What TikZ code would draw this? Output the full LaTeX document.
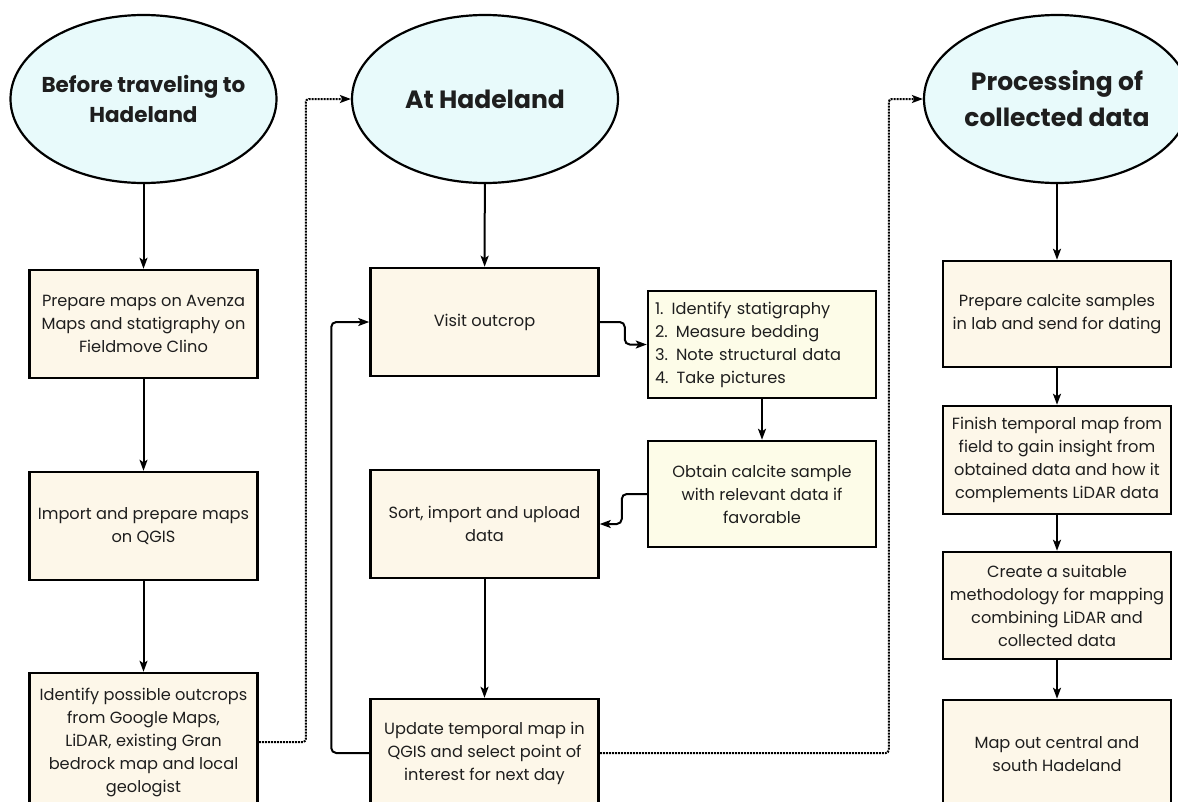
\documentclass[tikz,border=0pt]{standalone}
\usepackage{fontspec}
\setmainfont{Poppins}
\usetikzlibrary{shapes.geometric,arrows.meta,calc}
\definecolor{phasefill}{RGB}{232,250,251}
\definecolor{stepfill}{RGB}{253,247,233}
\definecolor{notefill}{RGB}{253,252,232}
\definecolor{ink}{RGB}{30,30,30}

\begin{document}
\begin{tikzpicture}[x=1pt,y=-1pt,
    phase/.style={ellipse,draw,line width=2.2pt,fill=phasefill,minimum width=266pt,minimum height=168pt,inner xsep=-40pt,inner ysep=0pt,align=center,text=ink,font=\fontsize{21.5}{30}\selectfont\bfseries},
    bigphase/.style={phase,font=\fontsize{25}{36}\selectfont\bfseries},
    stepbox/.style={rectangle,draw,line width=2.5pt,fill=stepfill,minimum width=228pt,minimum height=108pt,inner sep=0pt,align=center,text=ink,font=\fontsize{16.2}{23}\selectfont},
    notebox/.style={stepbox,fill=notefill},
    arr/.style={line width=2pt,-{Stealth[length=11pt,width=8pt,inset=2.5pt]}},
    link/.style={line width=2pt,densely dotted,rounded corners=3pt,-{Stealth[length=11pt,width=8pt,inset=2.5pt]}}]

    \clip (0,0) rectangle (1178,801);
    \fill[white] (0,0) rectangle (1178,801);

    % the three phases
    \node[phase] (before) at (143.5,99) {Before traveling to\\Hadeland};
    \node[bigphase] (athad) at (485,99) {At Hadeland};
    \node[bigphase] (proc) at (1057,99) {Processing of\\collected data};

    % before traveling
    \node[stepbox] (prep) at (143.5,324) {Prepare maps on Avenza\\Maps and statigraphy on\\Fieldmove Clino};
    \node[stepbox] (imp) at (143.5,526) {Import and prepare maps\\on QGIS};
    \node[stepbox,minimum height=138pt] (ident) at (143.5,742) {Identify possible outcrops\\from Google Maps,\\LiDAR, existing Gran\\bedrock map and local\\geologist};

    % at Hadeland
    \node[stepbox] (visit) at (484.5,322) {Visit outcrop};
    \node[notebox,text width=214pt,align=left,minimum height=107pt] (steps) at (762,344.5) {1. Identify statigraphy\\2. Measure bedding\\3. Note structural data\\4. Take pictures};
    \node[notebox,minimum height=106pt] (obtain) at (762,494) {Obtain calcite sample\\with relevant data if\\favorable};
    \node[stepbox] (sortd) at (484.5,524) {Sort, import and upload\\data};
    \node[stepbox] (upd) at (484.5,753) {Update temporal map in\\QGIS and select point of\\interest for next day};

    % processing
    \node[stepbox,minimum height=106pt] (calc) at (1057,314) {Prepare calcite samples\\in lab and send for dating};
    \node[stepbox] (finish) at (1057,460) {Finish temporal map from\\field to gain insight from\\obtained data and how it\\complements LiDAR data};
    \node[stepbox,minimum height=107pt] (method) at (1057,605.5) {Create a suitable\\methodology for mapping\\combining LiDAR and\\collected data};
    \node[stepbox] (mapout) at (1057,754) {Map out central and\\south Hadeland};

    \draw[arr] (before)--(prep);
    \draw[arr] (prep)--(imp);
    \draw[arr] (imp)--(ident);

    \draw[arr] (athad)--(visit);
    \draw[arr,rounded corners=5pt] (visit.east)--++(25,0)|-(steps.west);
    \draw[arr] (steps)--(obtain);
    \draw[arr,rounded corners=5pt] (obtain.west)--++(-25,0)|-(sortd.east);
    \draw[arr] (sortd)--(upd);
    \draw[arr,rounded corners=5pt] (upd.west)--++(-38,0)|-(visit.west);

    \draw[arr] (proc)--(calc);
    \draw[arr] (calc)--(finish);
    \draw[arr] (finish)--(method);
    \draw[arr] (method)--(mapout);

    \draw[link] (ident.east)--++(47,0)|-(athad.west);
    \draw[link] (upd.east)--++(289,0)|-(proc.west);
\end{tikzpicture}
\end{document}
